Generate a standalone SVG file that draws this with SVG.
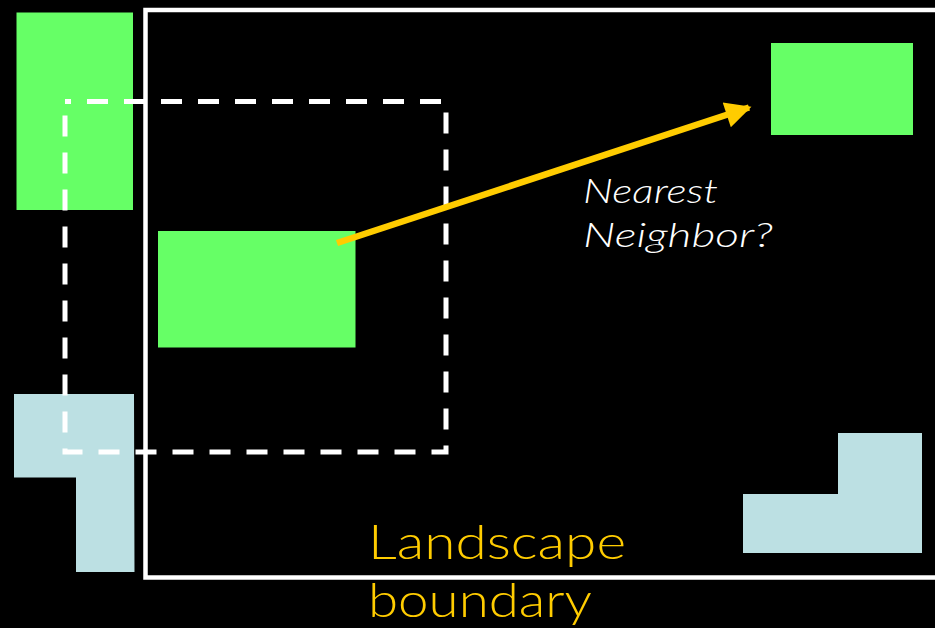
<svg xmlns="http://www.w3.org/2000/svg" width="935" height="628" viewBox="0 0 935 628">
  <defs>
    <style>
      .green { fill: #66FF66; }
      .blue { fill: #BCE0E3; }
      .label { font-family: "Century Gothic", "Lato", "Liberation Sans", sans-serif; font-weight: 300; }
    </style>
    <marker id="head" viewBox="0 0 10 10" refX="9" refY="5" markerWidth="4.6" markerHeight="4" markerUnits="strokeWidth" orient="auto">
      <path d="M0,0 L10,5 L0,10 z" fill="#FFCC00"/>
    </marker>
  </defs>
  <rect width="935" height="628" fill="#000000"/>

  <g id="landscape-boundary">
    <rect x="145.5" y="10" width="800" height="567.5" fill="none" stroke="#FFFFFF" stroke-width="4.5"/>
  </g>

  <g id="patch-top-left">
    <rect class="green" x="16.5" y="12.5" width="116.5" height="197.5"/>
  </g>
  <g id="patch-top-right">
    <rect class="green" x="771" y="43" width="142" height="92"/>
  </g>
  <g id="patch-center">
    <rect class="green" x="158" y="231" width="197.5" height="116.5"/>
  </g>
  <g id="patch-bottom-left">
    <polygon class="blue" points="14,394 134,394 134.5,572 76,572 76,477.5 14,477.5"/>
  </g>
  <g id="patch-bottom-right">
    <polygon class="blue" points="838,433 922,433 922,553 743,553 743,494 838,494"/>
  </g>

  <g id="search-window">
    <path d="M65,101.5 H446 V452 H65 Z" fill="none" stroke="#FFFFFF" stroke-width="5" stroke-dasharray="21 16" stroke-dashoffset="15"/>
  </g>

  <g id="connectors">
    <line x1="337" y1="243" x2="749" y2="107.5" stroke="#FFCC00" stroke-width="6.5" marker-end="url(#head)"/>
  </g>

  <g id="labels">
    <text class="label" x="583" y="203" font-size="34" font-style="italic" fill="#FFFFFF" textLength="135" lengthAdjust="spacingAndGlyphs">Nearest</text>
    <text class="label" x="583" y="247" font-size="34" font-style="italic" fill="#FFFFFF" textLength="190" lengthAdjust="spacingAndGlyphs">Neighbor?</text>
    <text class="label" x="368" y="559" font-size="47" fill="#FFCC00" textLength="258" lengthAdjust="spacingAndGlyphs">Landscape</text>
    <text class="label" x="368" y="617" font-size="47" fill="#FFCC00" textLength="224" lengthAdjust="spacingAndGlyphs">boundary</text>
  </g>
</svg>
